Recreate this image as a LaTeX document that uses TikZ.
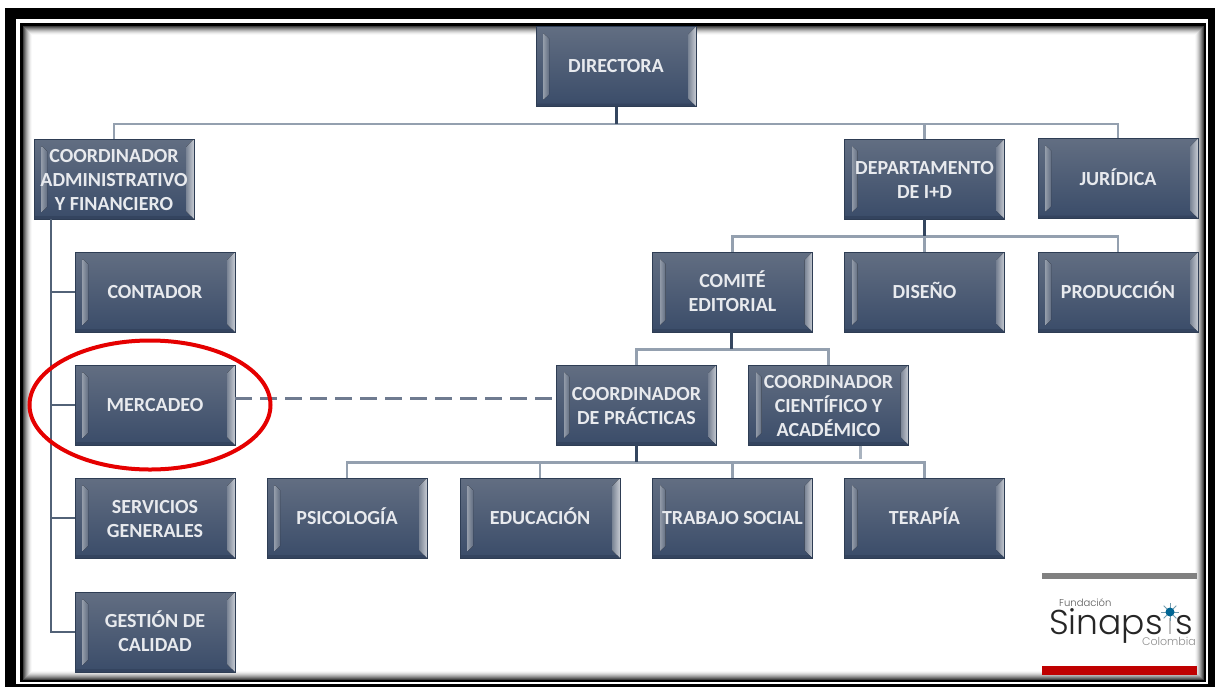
\documentclass[tikz,border=0pt]{standalone}
\usepackage{fontspec}
\setmainfont{Carlito}
\newfontfamily\logofont{Poppins Light}
\usetikzlibrary{calc,shapes.geometric}
\definecolor{boxtop}{HTML}{626E82}
\definecolor{boxbot}{HTML}{3A4C69}
\definecolor{busline}{HTML}{94A0AF}
\definecolor{trunkline}{HTML}{34465F}
\definecolor{dashline}{HTML}{6F7B90}
\definecolor{boxtext}{HTML}{E8EAEE}
\newcommand{\lineup}{\rule{0pt}{18pt}}
\tikzset{
  orgbox/.style={rectangle,draw=boxbot!80!black,line width=.6pt,top color=boxtop,bottom color=boxbot,
    minimum width=160pt,minimum height=80pt,inner sep=0pt,align=center,text=boxtext,
    font=\fontsize{20}{24}\selectfont\bfseries,
    execute at begin node={\rule{0pt}{16pt}},
    execute at end node={\rule[-3.4pt]{0pt}{3.4pt}},
    path picture={
      \coordinate (nw) at (path picture bounding box.north west);
      \coordinate (se) at (path picture bounding box.south east);
      \fill[left color=boxtop!70!white,right color=boxtop]
        ($(nw)+(7.5,7)$) -- ($(nw)+(13,12)$) -- ($(nw|-se)+(13,-12)$) -- ($(nw|-se)+(7.5,-7)$) -- cycle;
      \fill[left color=boxtop!85!white,right color=boxtop!35!white]
        ($(se|-nw)+(0,0)$) -- ($(se|-nw)+(-8,8)$) -- ($(se)+(-8,-8)$) -- ($(se)+(0,0)$) -- cycle;
      \fill[boxbot!90!black] ($(nw|-se)+(0,-3)$) -- ($(se)+(-3,-3)$) -- (se) -- (nw|-se) -- cycle;
    }},
  bus/.style={draw=busline,line width=2.4pt},
  trunk/.style={draw=trunkline,line width=3pt},
  staff/.style={draw=trunkline!85!white,line width=2.4pt},
  matrixdash/.style={draw=dashline,line width=3pt,dash pattern=on 17pt off 8pt},
}
\begin{document}
\begin{tikzpicture}[x=1pt,y=-1pt]
\useasboundingbox (0,0) rectangle (1215,689);
\fill[white] (0,0) rectangle (1215,689);
% frame
\fill[black] (5,8) rectangle (1215,687);
\fill[white] (16,19) rectangle (1208,684);
\fill[black] (20,23) rectangle (1206,682);
\fill[white] (23,26) rectangle (1204,680);
\foreach \i in {0,...,8}{
  \pgfmathsetmacro{\sh}{75*(1-\i/9)^1.6}
  \draw[line width=1pt,draw=black!\sh] ({23.5+\i},{26.5+\i}) rectangle ({1203.5-\i},{679.5-\i});
}
% boxes
\node[orgbox] (dir) at (616,66.5) {DIRECTORA};
\node[orgbox] (adm) at (114,179) {\lineup COORDINADOR\\ADMINISTRATIVO\\Y FINANCIERO};
\node[orgbox] (dep) at (924.5,179) {\lineup DEPARTAMENTO\\DE I+D};
\node[orgbox] (jur) at (1118,178.5) {JURÍDICA};
\node[orgbox] (com) at (732.5,292) {\lineup COMITÉ\\EDITORIAL};
\node[orgbox] (dis) at (924.5,292) {DISEÑO};
\node[orgbox] (pro) at (1118,292) {PRODUCCIÓN};
\node[orgbox] (con) at (155,292) {CONTADOR};
\node[orgbox] (mer) at (155,405) {MERCADEO};
\node[orgbox] (pra) at (636.5,405) {\lineup COORDINADOR\\DE PRÁCTICAS};
\node[orgbox] (cie) at (828.5,405) {\lineup COORDINADOR\\CIENTÍFICO Y\\ACADÉMICO};
\node[orgbox] (ser) at (155,518) {\lineup SERVICIOS\\GENERALES};
\node[orgbox] (psi) at (347,518) {PSICOLOGÍA};
\node[orgbox] (edu) at (540,518) {EDUCACIÓN};
\node[orgbox] (tra) at (732.5,518) {TRABAJO SOCIAL};
\node[orgbox] (ter) at (924.5,518) {TERAPÍA};
\node[orgbox] (ges) at (155,632) {\lineup GESTIÓN DE\\CALIDAD};
% hierarchy buses
\coordinate (b1) at ($(dir.south)+(0,17)$);
\draw[bus] (adm.north) |- (b1);
\draw[bus] (jur.north) |- (b1);
\draw[bus] (dep.north) -- (dep.north|-b1);
\draw[trunk] (dir.south) -- (b1);
\coordinate (b2) at ($(dep.south)+(0,17)$);
\draw[bus] (com.north) |- (b2);
\draw[bus] (pro.north) |- (b2);
\draw[bus] (dis.north) -- (b2);
\draw[trunk] (dep.south) -- (b2);
\coordinate (b3) at ($(com.south)+(-1.5,17)$);
\draw[bus] (pra.north) |- (b3);
\draw[bus] (cie.north) |- (b3);
\draw[trunk] (b3|-com.south) -- (b3);
\coordinate (b4) at ($(pra.south)+(0,17)$);
\draw[bus] (psi.north) |- (b4);
\draw[bus] (ter.north) |- (b4);
\draw[bus] (edu.north) -- (edu.north|-b4);
\draw[bus] (tra.north) -- (tra.north|-b4);
\draw[trunk] (pra.south) -- (b4);
\coordinate (st) at (860,445.5);
\draw[draw=busline!80!white,line width=3pt] (st) -- ++(0,13);
% left staff line
\coordinate (lt) at (51,219);
\draw[staff] (lt) |- (ges.west);
\draw[staff] (lt|-con.west) -- (con.west);
\draw[staff] (lt|-mer.west) -- (mer.west);
\draw[staff] (lt|-ser.west) -- (ser.west);
% dashed
\coordinate (d1) at ($(mer.east)+(0,-7)$);
\coordinate (d2) at ($(pra.west)+(0,-7)$);
\draw[matrixdash] (d1) -- (d2);
% red ellipse
\node[ellipse,draw=red!90!black,line width=4pt,minimum width=241pt,minimum height=129pt,inner sep=0pt] (ring) at (150,405) {};
% logo
\fill[black!50] (1042,573) rectangle (1197,578.5);
\fill[red!75!black] (1042,665.5) rectangle (1197,675);
\node[anchor=base west,inner sep=0pt,text=black!65,font=\logofont\fontsize{10}{12}\selectfont] (lf) at (1059,606.5) {Fundación};
\node[anchor=base west,inner sep=0pt,text=black!85,font=\logofont\fontsize{34.5}{36}\selectfont] (ls) at (1049,634) {Sinaps};
\node[anchor=base west,inner sep=0pt,text=black!85,font=\logofont\fontsize{34.5}{36}\selectfont] (ls2) at (1175,634) {s};
\node[anchor=base east,inner sep=0pt,text=black!45,font=\logofont\fontsize{11}{12}\selectfont] (lc) at (1196,645) {Colombia};
\draw[line width=2pt,draw=black!25] (1169.5,618) -- (1169.5,634);
\foreach \a in {0,45,...,315} \draw[line width=.9pt,draw=black!50!cyan!70!white] (1170,612) -- ++(\a:9);
\fill[black!70!blue!60!cyan] (1170,612) circle (4.5);
\end{tikzpicture}
\end{document}
